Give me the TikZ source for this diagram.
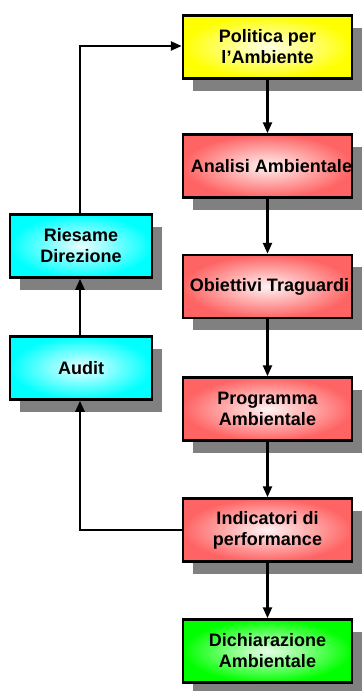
\documentclass[tikz,border=0pt]{standalone}
\usepackage{fontspec}
\setmainfont{Liberation Sans}
\usetikzlibrary{arrows.meta,shadows}
\definecolor{boxyellow}{RGB}{255,255,0}
\definecolor{boxred}{RGB}{255,100,100}
\definecolor{boxcyan}{RGB}{0,255,255}
\definecolor{boxgreen}{RGB}{0,255,0}
\definecolor{shadowgray}{RGB}{128,128,128}
\tikzset{
  boxbase/.style={draw=black, line width=2.5pt, minimum height=63pt,
    align=center, inner sep=0pt,
    font=\fontsize{18}{21}\selectfont\bfseries,
    drop shadow={shadow xshift=10pt, shadow yshift=-12pt, fill=shadowgray, opacity=1}},
  rbox/.style={boxbase, minimum width=169pt},
  lbox/.style={boxbase, minimum width=142pt},
  fillc/.style={inner color=#1!8!white, outer color=#1},
  conn/.style={line width=2.4pt, draw=black, -{Triangle[length=11pt,width=9pt]}}
}
\begin{document}
\begin{tikzpicture}[x=1pt,y=-1pt]
\useasboundingbox (0,0) rectangle (364,691);
\node[rbox, fillc=boxyellow] (pol) at (267.5,47) {Politica per\\l\symbol{39}Ambiente};
\node[rbox, fillc=boxred] (ana) at (267.5,166) {\hspace*{8pt}Analisi Ambientale};
\node[rbox, fillc=boxred] (obi) at (267.5,286.5) {\hspace*{4pt}Obiettivi Traguardi};
\node[rbox, fillc=boxred] (pro) at (267.5,409) {Programma\\Ambientale};
\node[rbox, fillc=boxred] (ind) at (267.5,530) {Indicatori di\\performance};
\node[rbox, fillc=boxgreen] (dic) at (267.5,651) {Dichiarazione\\Ambientale};
\node[lbox, fillc=boxcyan] (ries) at (81,246) {Riesame\\Direzione};
\node[lbox, fillc=boxcyan] (aud) at (81,368) {Audit};
\coordinate (c1) at (80,530);
\coordinate (c2) at (80,46);
\draw[conn] (pol) -- (ana);
\draw[conn] (ana) -- (obi);
\draw[conn] (obi) -- (pro);
\draw[conn] (pro) -- (ind);
\draw[conn] (ind) -- (dic);
\draw[conn] (ind.west) -- (c1) -- (aud.south -| c1);
\draw[conn] (aud.north -| c1) -- (ries.south -| c1);
\draw[conn] (ries.north -| c2) -- (c2) -- (pol.west |- c2);
\end{tikzpicture}
\end{document}
